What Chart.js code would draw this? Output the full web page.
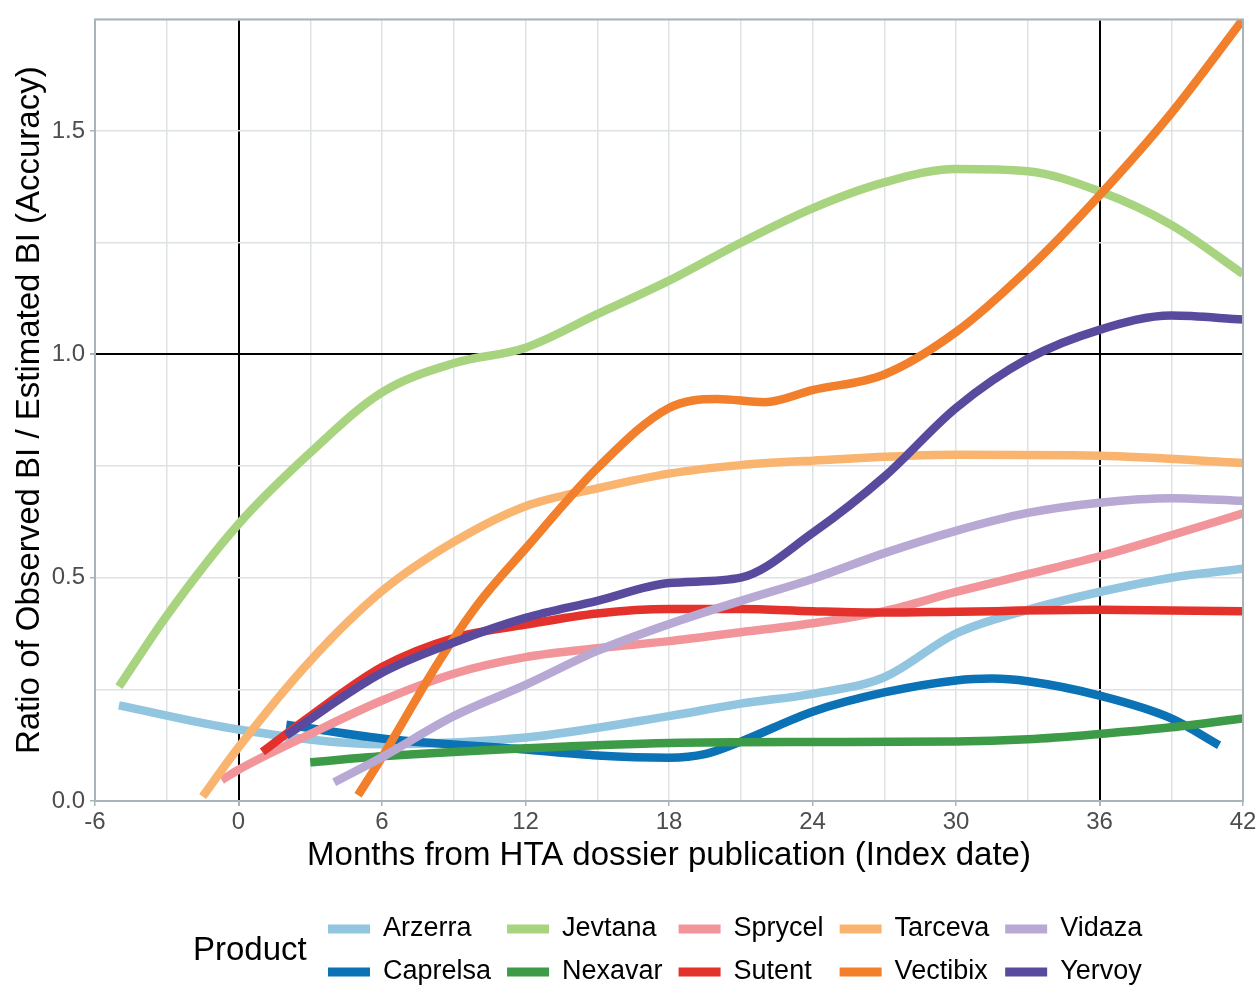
<!DOCTYPE html>
<html>
<head>
<meta charset="utf-8">
<script src="https://cdn.jsdelivr.net/npm/chart.js@4"></script>
<style>
  body { margin: 0; background: #fff; }
  #wrap { width: 1259px; height: 987px; position: relative; }
</style>
</head>
<body>
<div id="wrap"><canvas id="myChart"></canvas></div>
<script>
// products, in legend order (alphabetical, drawn in that order)
const products = ["Arzerra", "Caprelsa", "Jevtana", "Nexavar", "Sprycel", "Sutent", "Tarceva", "Vectibix", "Vidaza", "Yervoy"];
const colors = ["#92c5df", "#0a72b5", "#a8d480", "#3d9b48", "#f2959b", "#e3322b", "#f9b56f", "#f17f2c", "#b8a9d4", "#5a4a9e"];

// months from index date and smoothed accuracy for each product
const arzerraX = [-5, 0, 6, 12, 18, 21, 24, 27, 30, 33, 36, 39, 42];
const arzerraY = [0.214, 0.16, 0.127, 0.142, 0.19, 0.218, 0.24, 0.277, 0.375, 0.428, 0.468, 0.5, 0.52];
const caprelsaX = [2, 6, 12, 15, 18, 19.5, 21, 24, 27, 30, 31.5, 33, 36, 39, 41];
const caprelsaY = [0.171, 0.14, 0.115, 0.102, 0.097, 0.105, 0.133, 0.2, 0.243, 0.27, 0.274, 0.268, 0.236, 0.185, 0.125];
const jevtanaX = [-5, -3, 0, 3, 6, 9, 12, 15, 18, 21, 24, 27, 30, 33, 36, 39, 42];
const jevtanaY = [0.256, 0.415, 0.62, 0.78, 0.915, 0.98, 1.015, 1.09, 1.165, 1.25, 1.327, 1.385, 1.415, 1.41, 1.365, 1.29, 1.18];
const nexavarX = [3, 6, 12, 18, 24, 30, 33, 36, 39, 42];
const nexavarY = [0.087, 0.1, 0.118, 0.13, 0.132, 0.133, 0.138, 0.15, 0.165, 0.185];
const sprycelX = [-0.7, 0, 3, 6, 9, 12, 15, 18, 21, 24, 27, 30, 33, 36, 39, 42];
const sprycelY = [0.047, 0.07, 0.15, 0.225, 0.285, 0.322, 0.342, 0.358, 0.378, 0.398, 0.425, 0.468, 0.508, 0.548, 0.595, 0.644];
const sutentX = [1, 3, 6, 9, 12, 15, 18, 21, 24, 27, 30, 36, 42];
const sutentY = [0.11, 0.19, 0.3, 0.365, 0.395, 0.42, 0.43, 0.43, 0.425, 0.422, 0.424, 0.428, 0.425];
const tarcevaX = [-1.5, 0, 3, 6, 9, 12, 15, 18, 21, 24, 30, 36, 42];
const tarcevaY = [0.01, 0.12, 0.314, 0.47, 0.58, 0.66, 0.7, 0.733, 0.752, 0.762, 0.775, 0.773, 0.757];
const vectibixX = [5, 6, 8.4, 10, 12, 15, 18, 20, 22, 24, 27, 30, 33, 36, 39, 42];
const vectibixY = [0.013, 0.098, 0.314, 0.44, 0.565, 0.745, 0.88, 0.9, 0.893, 0.92, 0.955, 1.05, 1.19, 1.356, 1.54, 1.75];
const vidazaX = [4, 6, 9, 12, 15, 18, 21, 24, 27, 30, 33, 36, 39, 42];
const vidazaY = [0.042, 0.098, 0.19, 0.26, 0.336, 0.396, 0.448, 0.497, 0.555, 0.605, 0.645, 0.668, 0.678, 0.672];
const yervoyX = [2, 6, 9, 12, 15, 18, 21, 24, 27, 30, 33, 36, 39, 42];
const yervoyY = [0.147, 0.287, 0.355, 0.41, 0.448, 0.488, 0.5, 0.6, 0.726, 0.88, 0.99, 1.055, 1.087, 1.078];

const seriesX = [arzerraX, caprelsaX, jevtanaX, nexavarX, sprycelX, sutentX, tarcevaX, vectibixX, vidazaX, yervoyX];
const seriesY = [arzerraY, caprelsaY, jevtanaY, nexavarY, sprycelY, sutentY, tarcevaY, vectibixY, vidazaY, yervoyY];

// reference lines
const refMonths = [0, 36];
const refRatio = 1.0;

const FONT = "'Liberation Sans', Arial, sans-serif";

const datasets = products.map((p, i) => ({
  label: p,
  data: seriesX[i].map((x, j) => ({ x: x, y: seriesY[i][j] })),
  borderColor: colors[i],
  backgroundColor: colors[i],
  borderWidth: 8.5,
  borderCapStyle: "butt",
  pointRadius: 0,
  cubicInterpolationMode: "monotone",
  order: products.length - i, // later products on top, like ggplot
}));

// panel frame + ggplot-style legend at the bottom
const framePlugin = {
  id: "frame",
  afterDraw(chart) {
    const { ctx, chartArea: a } = chart;
    ctx.save();
    ctx.strokeStyle = "#a9b3ba";
    ctx.lineWidth = 2;
    ctx.strokeRect(a.left, a.top, a.right - a.left, a.bottom - a.top);
    ctx.restore();
  },
};

const legendPlugin = {
  id: "bottomLegend",
  afterDraw(chart) {
    const ctx = chart.ctx;
    ctx.save();
    ctx.fillStyle = "#000";
    ctx.textBaseline = "middle";
    ctx.font = "33px " + FONT;
    ctx.fillText("Product", 193, 951);
    ctx.font = "27px " + FONT;
    const rows = [929, 972];
    let x = 328;
    for (let c = 0; c < 5; c++) {
      let maxW = 0;
      for (let r = 0; r < 2; r++) {
        const i = c * 2 + r;
        ctx.fillStyle = colors[i];
        ctx.fillRect(x, rows[r] - 4.5, 42, 9);
        ctx.fillStyle = "#000";
        ctx.fillText(products[i], x + 55, rows[r]);
        maxW = Math.max(maxW, ctx.measureText(products[i]).width);
      }
      x += 55 + maxW + 16;
    }
    ctx.restore();
  },
};

const gridGray = "#dde2e5";

new Chart(document.getElementById("myChart").getContext("2d"), {
  type: "line",
  data: { datasets: datasets },
  options: {
    responsive: true,
    maintainAspectRatio: false,
    animation: false,
    layout: { padding: { left: 0, top: 14, right: 16, bottom: 111 } },
    plugins: { legend: { display: false }, tooltip: { enabled: false } },
    scales: {
      x: {
        type: "linear",
        min: -6,
        max: 42,
        afterFit: (s) => { s.height = 75; },
        border: { display: false },
        grid: {
          color: (c) => refMonths.includes(c.tick.value) ? "#000" : gridGray,
          lineWidth: (c) => refMonths.includes(c.tick.value) ? 2 : 1.5,
          tickLength: 5,
          tickColor: (c) => c.tick.value % 6 === 0 ? "#a9b3ba" : "rgba(0,0,0,0)",
        },
        ticks: {
          stepSize: 3,
          autoSkip: false,
          maxRotation: 0,
          color: "#4d4d4d",
          font: { family: FONT, size: 24 },
          padding: 2,
          callback: (v) => (v % 6 === 0 ? String(v) : ""),
        },
        title: {
          display: true,
          text: "Months from HTA dossier publication (Index date)",
          color: "#000",
          font: { family: FONT, size: 33 },
          padding: { top: 0, bottom: 0 },
        },
      },
      y: {
        min: 0,
        max: 1.75,
        afterFit: (s) => { s.width = 95; },
        border: { display: false },
        grid: {
          color: (c) => c.tick.value === refRatio ? "#000" : gridGray,
          lineWidth: (c) => c.tick.value === refRatio ? 2 : 1.5,
          tickLength: 5,
          tickColor: (c) => Math.abs(c.tick.value * 2 - Math.round(c.tick.value * 2)) < 1e-9 ? "#a9b3ba" : "rgba(0,0,0,0)",
        },
        ticks: {
          stepSize: 0.25,
          autoSkip: false,
          color: "#4d4d4d",
          font: { family: FONT, size: 24 },
          padding: 5,
          callback: (v) => (Math.abs(v * 2 - Math.round(v * 2)) < 1e-9 ? v.toFixed(1) : ""),
        },
        title: {
          display: true,
          text: "Ratio of Observed BI / Estimated BI (Accuracy)",
          color: "#000",
          font: { family: FONT, size: 33 },
          padding: { top: 10, bottom: 0 },
        },
      },
    },
  },
  plugins: [framePlugin, legendPlugin],
});
</script>
</body>
</html>
